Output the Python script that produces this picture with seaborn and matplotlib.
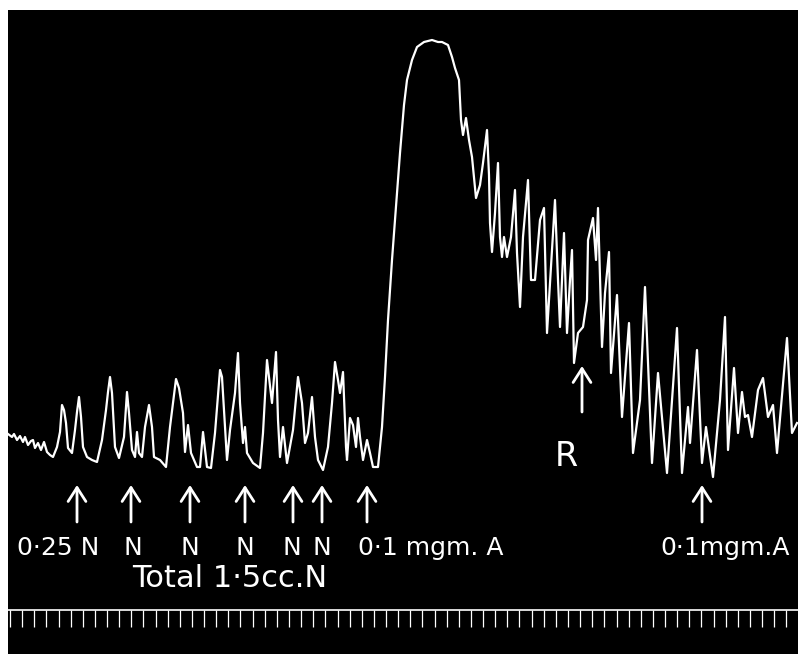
import matplotlib
matplotlib.use("Agg")

import pandas as pd
import matplotlib.pyplot as plt
import seaborn as sns
from matplotlib.ticker import MultipleLocator

# Kymograph trace (x = position along drum, y = pixel height, 0 at top)
trace_x = [8, 12, 14, 17, 20, 23, 25, 28, 31, 33, 35, 38, 41, 44, 47, 50, 53, 57, 60, 62,
           64, 66, 68, 72, 75, 77, 79, 81, 83, 87, 92, 97, 102, 106, 108, 110, 112, 115, 119, 124,
           127, 129, 132, 135, 137, 139, 142, 145, 149, 152, 154, 160, 166, 170, 176, 179, 183, 185, 188, 191,
           197, 200, 203, 207, 211, 215, 220, 222, 225, 227, 230, 235, 238, 240, 243, 245, 247, 253, 260, 263,
           267, 272, 276, 278, 280, 283, 287, 293, 298, 302, 305, 308, 312, 315, 318, 323, 328, 332, 335, 338,
           340, 343, 344, 346, 347, 350, 353, 356, 358, 360, 363, 367, 370, 373, 378, 382, 385, 388, 392, 395,
           400, 404, 407, 412, 417, 424, 432, 438, 442, 448, 452, 455, 459, 460, 461, 463, 466, 469, 472, 476,
           480, 483, 487, 489, 490, 492, 495, 498, 500, 502, 504, 507, 511, 515, 517, 520, 523, 528, 531, 535,
           540, 544, 547, 552, 555, 558, 560, 564, 567, 570, 572, 574, 578, 583, 587, 588, 593, 596, 598, 602,
           605, 609, 611, 617, 622, 629, 633, 640, 645, 652, 658, 667, 672, 677, 682, 688, 690, 697, 702, 706,
           713, 720, 725, 728, 734, 738, 742, 745, 748, 752, 758, 763, 768, 773, 777, 787, 792, 797]
trace_y = [434, 437, 434, 440, 436, 442, 437, 445, 441, 440, 448, 443, 450, 442, 452, 455, 457, 447, 432, 405,
           410, 423, 448, 453, 430, 412, 397, 417, 447, 457, 460, 462, 440, 410, 392, 377, 393, 447, 458, 437,
           392, 413, 450, 457, 432, 453, 457, 427, 405, 427, 457, 460, 467, 427, 379, 388, 413, 452, 425, 453,
           467, 467, 432, 467, 468, 433, 370, 377, 427, 460, 430, 393, 353, 403, 443, 427, 453, 463, 468, 433,
           360, 403, 352, 420, 457, 427, 463, 430, 377, 403, 443, 433, 397, 437, 460, 470, 447, 403, 362, 380,
           393, 372, 397, 447, 460, 418, 425, 447, 418, 437, 460, 440, 453, 467, 467, 427, 377, 320, 260, 220,
           153, 105, 80, 60, 47, 42, 40, 42, 42, 45, 57, 68, 80, 100, 120, 135, 118, 140, 157, 198,
           185, 163, 130, 175, 223, 252, 213, 163, 237, 257, 237, 257, 237, 190, 253, 307, 237, 180, 280, 280,
           220, 208, 333, 250, 200, 280, 327, 233, 333, 280, 250, 363, 333, 327, 300, 240, 218, 260, 208, 347,
           293, 252, 373, 295, 417, 323, 453, 400, 287, 463, 373, 473, 400, 328, 473, 407, 443, 350, 463, 427,
           477, 400, 317, 450, 368, 433, 392, 417, 415, 437, 390, 378, 417, 405, 453, 338, 433, 423]

# Injection marks (arrow x positions) and their labels
n_arrow_x = [77, 131, 190, 245, 293, 322, 367]
r_arrow_x = [582]
a_arrow_x = [702]
n_labels = ["0·25 N", "N", "N", "N", "N", "N", "0·1 mgm. A"]
n_label_x = [17, 133, 190, 245, 292, 322, 358]
total_label = "Total 1·5cc.N"
right_label = "0·1mgm.A"
r_label = "R"

# time marker spacing (one tick every ~12 px)
TIME_MARK_STEP = 12.13

df = pd.DataFrame({"x": trace_x, "y": trace_y})

fig = plt.figure(figsize=(7.98, 6.54), dpi=100, facecolor="white")

# Black drum area
ax = fig.add_axes([8 / 798, 0, 790 / 798, 644 / 654])
ax.set_facecolor("black")
sns.lineplot(data=df, x="x", y="y", ax=ax, sort=False, estimator=None,
             color="white", linewidth=1.6)
ax.set_xlim(8, 798)
ax.set_ylim(654, 10)
ax.set_xlabel("")
ax.set_ylabel("")
ax.set_xticks([])
ax.set_yticks([])
for s in ax.spines.values():
    s.set_visible(False)

arrow_style = dict(arrowstyle="->,head_length=0.5,head_width=0.32", color="white",
                   lw=2, mutation_scale=20, shrinkA=0, shrinkB=0)

# Arrows under the trace
for x in n_arrow_x + a_arrow_x:
    ax.annotate("", xy=(x, 485), xytext=(x, 522), arrowprops=arrow_style)
for x in r_arrow_x:
    ax.annotate("", xy=(x, 366), xytext=(x, 412), arrowprops=arrow_style)

# Labels
for lab, x in zip(n_labels, n_label_x):
    ha = "left" if (lab.startswith("0") ) else "center"
    ax.text(x, 548, lab, color="white", fontsize=18, ha=ha, va="center")
ax.text(132, 579, total_label, color="white", fontsize=22, ha="left", va="center")
ax.text(660, 548, right_label, color="white", fontsize=18, ha="left", va="center")
ax.text(566, 457, r_label, color="white", fontsize=24, ha="center", va="center")

# Time marker line with ticks
tax = fig.add_axes([8 / 798, 14 / 654, 790 / 798, 30 / 654])
tax.patch.set_visible(False)
tax.set_xlim(-2, 788)
tax.set_ylim(0, 1)
for name, s in tax.spines.items():
    s.set_visible(name == "top")
tax.spines["top"].set_color("white")
tax.spines["top"].set_linewidth(1.2)
tax.xaxis.set_major_locator(MultipleLocator(TIME_MARK_STEP))
tax.tick_params(axis="x", direction="in", length=12, width=0.9, colors="white",
                top=True, bottom=False, labeltop=False, labelbottom=False)
tax.set_yticks([])

fig.savefig("out.png", dpi=100, facecolor=fig.get_facecolor())
